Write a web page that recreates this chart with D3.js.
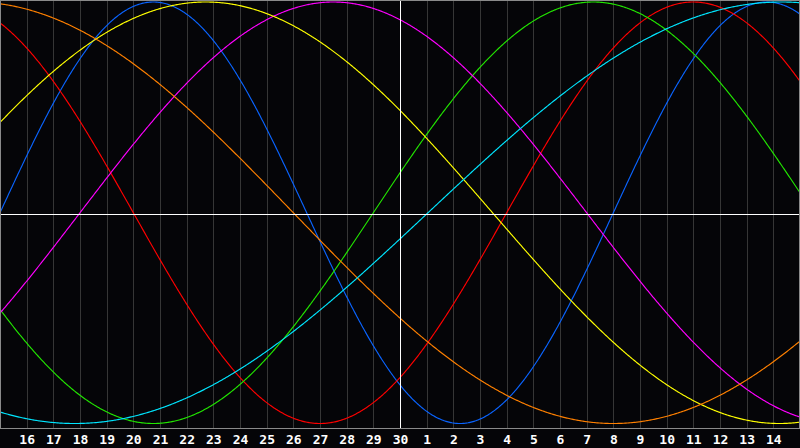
<!DOCTYPE html>
<html>
<head>
<meta charset="utf-8">
<script src="https://cdn.jsdelivr.net/npm/d3@7"></script>
<style>
  html, body { margin: 0; padding: 0; background: #050508; }
  svg { display: block; }
</style>
</head>
<body>
<svg id="chart" width="800" height="448"></svg>
<script>
// Day labels along the bottom (grid lines at day index 1..29)
const dayLabels = ["16","17","18","19","20","21","22","23","24","25","26","27","28","29","30",
                   "1","2","3","4","5","6","7","8","9","10","11","12","13","14"];
// Biorhythm cycles: names, cycle lengths (days), day index of a peak, colours
const cycleNames   = ["Physical","Emotional","Intellectual","Intuitive","Aesthetic","Awareness","Spiritual"];
const cycleLengths = [23, 28, 33, 38, 43, 48, 53];
const peakDays     = [5.75, 26.0, 22.25, 12.5, 7.72, -1.0, 29.3];
const cycleColors  = ["#0a64ff", "#ff0000", "#22e600", "#ff00ff", "#ffff00", "#ff8000", "#00e6ff"];
const totalDays = 30;

const W = 800, H = 448;
const plot = {left: 0, right: 799, top: 0, bottom: 428};

const svg = d3.select("#chart");
svg.append("rect").attr("x",0).attr("y",0).attr("width",W).attr("height",H).attr("fill","#050508");

const x = d3.scaleLinear().domain([0, totalDays]).range([0, 800]);
const y = d3.scaleLinear().domain([-1, 1]).range([423.5, 2]);

// vertical grid lines
const gridDays = d3.range(1, totalDays);
svg.append("g").selectAll("line").data(gridDays).join("line")
  .attr("x1", d => Math.round(x(d)) + 0.5).attr("x2", d => Math.round(x(d)) + 0.5)
  .attr("y1", plot.top).attr("y2", plot.bottom)
  .attr("stroke", d => d === 15 ? "none" : "#363636").attr("stroke-width", 1)
  .attr("shape-rendering","crispEdges");

// axis labels via d3 axis
const axis = d3.axisBottom(x).tickValues(gridDays).tickSize(0).tickPadding(0)
  .tickFormat((d, i) => dayLabels[i]);
const ag = svg.append("g").attr("transform", `translate(0, ${plot.bottom + 3})`).call(axis);
ag.select(".domain").remove();
ag.selectAll("text")
  .attr("dy", null).attr("y", 12.5)
  .attr("fill", "#ffffff")
  .attr("font-family", "'DejaVu Sans Mono', monospace")
  .attr("font-weight", "bold")
  .attr("font-size", "13px");

// curves
const samples = d3.range(0, 800.5, 1).map(px => x.invert(px));
const line = d3.line().x(d => x(d.t)).y(d => y(d.v)).curve(d3.curveLinear);
cycleLengths.forEach((P, i) => {
  const pts = samples.map(t => ({t, v: Math.cos(2 * Math.PI * (t - peakDays[i]) / P)}));
  svg.append("path").datum(pts)
    .attr("d", line)
    .attr("fill", "none")
    .attr("stroke", cycleColors[i])
    .attr("stroke-width", 1.15)
    .append("title").text(cycleNames[i]);
});

// centre cross lines (white)
svg.append("line").attr("x1", 0).attr("x2", 800).attr("y1", 214.5).attr("y2", 214.5)
  .attr("stroke", "#ffffff").attr("shape-rendering","crispEdges");
svg.append("line").attr("x1", Math.round(x(15)) + 0.5).attr("x2", Math.round(x(15)) + 0.5)
  .attr("y1", plot.top).attr("y2", plot.bottom)
  .attr("stroke", "#ffffff").attr("shape-rendering","crispEdges");

// plot border
svg.append("rect").attr("x", 0.5).attr("y", 0.5).attr("width", plot.right).attr("height", plot.bottom)
  .attr("fill", "none").attr("stroke", "#8a8a8a").attr("shape-rendering","crispEdges");
</script>
</body>
</html>
